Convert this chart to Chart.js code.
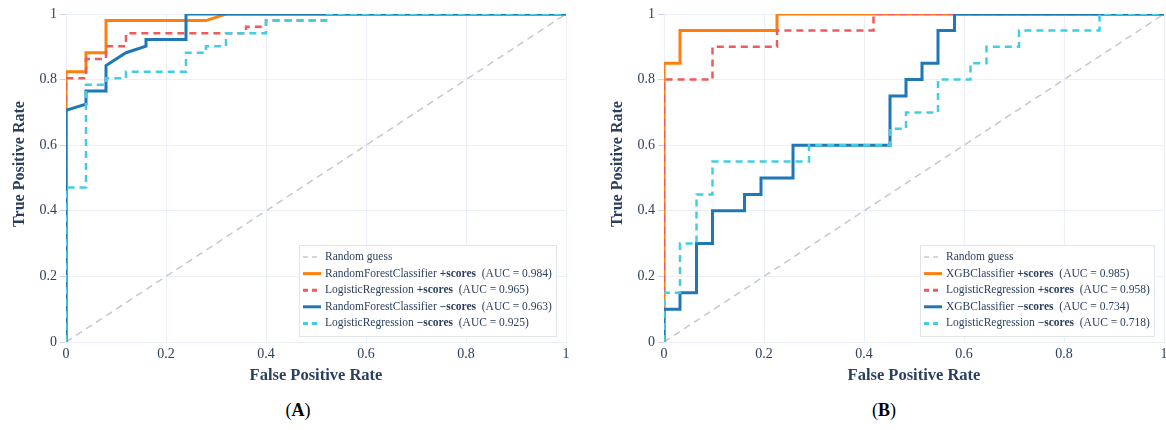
<!DOCTYPE html>
<html>
<head>
<meta charset="utf-8">
<script src="https://cdn.jsdelivr.net/npm/chart.js@4.4.1/dist/chart.umd.min.js"></script>
<style>
  body { margin: 0; background: #fff; width: 1166px; height: 430px; overflow: hidden; position: relative; font-family: "Liberation Serif", serif; }
  .panel { position: absolute; top: 0; width: 583px; height: 400px; }
  .cap { position: absolute; top: 400px; width: 100px; text-align: center; font-size: 18px; color: #000; }
</style>
</head>
<body>
<div class="panel" style="left:0"><canvas id="rocA" width="583" height="400"></canvas></div>
<div class="panel" style="left:583px"><canvas id="rocB" width="583" height="400"></canvas></div>
<div class="cap" style="left:248px">(<b>A</b>)</div>
<div class="cap" style="left:834px">(<b>B</b>)</div>
<script>
// ---- data: panel A ----
const guessFpr = [0, 1];
const guessTpr = [0, 1];

const rfPosFpr = [0, 0, 0.04, 0.04, 0.08, 0.08, 0.28, 0.32, 1];
const rfPosTpr = [0, 0.824, 0.824, 0.882, 0.882, 0.98, 0.98, 1, 1];

const lrPosFprA = [0, 0, 0.04, 0.04, 0.08, 0.08, 0.12, 0.12, 0.36, 0.36, 0.40, 0.40, 0.52, 0.52, 1];
const lrPosTprA = [0, 0.804, 0.804, 0.863, 0.863, 0.902, 0.902, 0.941, 0.941, 0.961, 0.961, 0.98, 0.98, 1, 1];

const rfNegFpr = [0, 0, 0.04, 0.04, 0.08, 0.08, 0.12, 0.16, 0.16, 0.24, 0.24, 1];
const rfNegTpr = [0, 0.706, 0.725, 0.765, 0.765, 0.843, 0.882, 0.902, 0.922, 0.922, 1, 1];

const lrNegFprA = [0, 0, 0.04, 0.04, 0.08, 0.08, 0.12, 0.12, 0.24, 0.24, 0.28, 0.28, 0.32, 0.32, 0.40, 0.40, 0.52, 0.52, 1];
const lrNegTprA = [0, 0.471, 0.471, 0.784, 0.784, 0.804, 0.804, 0.824, 0.824, 0.882, 0.882, 0.902, 0.902, 0.941, 0.941, 0.98, 0.98, 1, 1];

// ---- data: panel B ----
const xgbPosFpr = [0, 0, 0.032, 0.032, 0.226, 0.226, 1];
const xgbPosTpr = [0, 0.85, 0.85, 0.95, 0.95, 1, 1];

const lrPosFprB = [0, 0, 0.097, 0.097, 0.226, 0.226, 0.419, 0.419, 1];
const lrPosTprB = [0, 0.8, 0.8, 0.9, 0.9, 0.95, 0.95, 1, 1];

const xgbNegFpr = [0, 0, 0.032, 0.032, 0.065, 0.065, 0.097, 0.097, 0.161, 0.161, 0.194, 0.194, 0.258, 0.258, 0.452, 0.452, 0.484, 0.484, 0.516, 0.516, 0.548, 0.548, 0.581, 0.581, 1];
const xgbNegTpr = [0, 0.1, 0.1, 0.15, 0.15, 0.3, 0.3, 0.4, 0.4, 0.45, 0.45, 0.5, 0.5, 0.6, 0.6, 0.75, 0.75, 0.8, 0.8, 0.85, 0.85, 0.95, 0.95, 1, 1];

const lrNegFprB = [0, 0, 0.032, 0.032, 0.065, 0.065, 0.097, 0.097, 0.290, 0.290, 0.452, 0.452, 0.484, 0.484, 0.548, 0.548, 0.613, 0.613, 0.645, 0.645, 0.710, 0.710, 0.871, 0.871, 1];
const lrNegTprB = [0, 0.15, 0.15, 0.3, 0.3, 0.45, 0.45, 0.55, 0.55, 0.6, 0.6, 0.65, 0.65, 0.7, 0.7, 0.8, 0.8, 0.85, 0.85, 0.9, 0.9, 0.95, 0.95, 1, 1];

// legend text
const modelsA = ['RandomForestClassifier', 'LogisticRegression', 'RandomForestClassifier', 'LogisticRegression'];
const modelsB = ['XGBClassifier', 'LogisticRegression', 'XGBClassifier', 'LogisticRegression'];
const scoreTags = ['+scores', '+scores', '\u2212scores', '\u2212scores'];
const aucA = ['0.984', '0.965', '0.963', '0.925'];
const aucB = ['0.985', '0.958', '0.734', '0.718'];
const tickVals = [0, 0.2, 0.4, 0.6, 0.8, 1];

const FONT = '"Liberation Serif", "Times New Roman", serif';
const NAVY = '#2a3f5f';
const GRID = '#ebf0f8';
const ORANGE = '#ff7f0e', RED = '#ef5b5b', BLUE = '#1f77b4', CYAN = '#3fcfe0', GRAY = '#c8c8c8';

function pts(xs, ys) {
    return xs.map((x, i) => ({ x: x, y: ys[i] }));
}

function series(fpr, tpr, color, dashed, order, width) {
    return {
        data: pts(fpr, tpr),
        showLine: true,
        borderColor: color,
        backgroundColor: color,
        borderWidth: width,
        borderDash: dashed ? [7, 5] : [],
        pointRadius: 0,
        tension: 0,
        fill: false,
        order: order
    };
}

function legendBox(rows) {
    return {
        id: 'rocLegend',
        afterDatasetsDraw(chart) {
            const ctx = chart.ctx;
            const xs = chart.scales.x, ys = chart.scales.y;
            const norm = '11.5px ' + FONT, bold = 'bold 11.5px ' + FONT;
            ctx.save();
            let maxW = 0;
            rows.forEach(r => {
                let w = 0;
                r.parts.forEach(p => { ctx.font = p.b ? bold : norm; w += ctx.measureText(p.t).width; });
                maxW = Math.max(maxW, w);
            });
            const rowH = 16.6;
            const boxW = Math.round(26 + maxW + 4), boxH = Math.round(rows.length * rowH + 8);
            const right = Math.round(xs.getPixelForValue(0.98));
            const bottom = Math.round(ys.getPixelForValue(0.018));
            const left = right - boxW, top = bottom - boxH;
            ctx.fillStyle = '#fff';
            ctx.fillRect(left, top, boxW, boxH);
            ctx.strokeStyle = '#e1e5eb';
            ctx.lineWidth = 1;
            ctx.strokeRect(left + 0.5, top + 0.5, boxW, boxH);
            rows.forEach((r, i) => {
                const y = top + 12 + i * rowH;
                ctx.strokeStyle = r.color;
                ctx.lineWidth = r.lw;
                ctx.setLineDash(r.dash);
                ctx.beginPath();
                ctx.moveTo(left + 4, y);
                ctx.lineTo(left + 22, y);
                ctx.stroke();
                ctx.setLineDash([]);
                let x = left + 26;
                ctx.textBaseline = 'middle';
                ctx.fillStyle = NAVY;
                r.parts.forEach(p => {
                    ctx.font = p.b ? bold : norm;
                    ctx.fillText(p.t, x, y);
                    x += ctx.measureText(p.t).width;
                });
            });
            // y axis title, sits a little above the plot centre
            ctx.save();
            ctx.translate(chart.scales.y.left + 20, 164);
            ctx.rotate(-Math.PI / 2);
            ctx.font = 'bold 16px ' + FONT;
            ctx.fillStyle = NAVY;
            ctx.textAlign = 'center';
            ctx.textBaseline = 'middle';
            ctx.fillText('True Positive Rate', 0, 0);
            ctx.restore();
            ctx.restore();
        }
    };
}

function legendRows(models, aucs) {
    const cols = [ORANGE, RED, BLUE, CYAN];
    const rows = [{ color: GRAY, lw: 1.5, dash: [5, 4], parts: [{ t: 'Random guess' }] }];
    models.forEach((m, i) => {
        rows.push({
            color: cols[i], lw: 3, dash: (i % 2) ? [5, 4] : [],
            parts: [{ t: m + ' ' }, { t: scoreTags[i], b: true }, { t: '  (AUC = ' + aucs[i] + ')' }]
        });
    });
    return rows;
}

function fmt(v) {
    if (Math.abs(v) < 1e-9) return '0';
    if (Math.abs(v - 1) < 1e-9) return '1';
    return v.toFixed(1);
}

function makeChart(id, padLeft, padRight, sets, rows) {
    new Chart(document.getElementById(id), {
        type: 'scatter',
        data: { datasets: sets },
        options: {
            responsive: false,
            animation: false,
            layout: { padding: { left: padLeft, top: 14, right: padRight, bottom: 0 } },
            plugins: { legend: { display: false }, tooltip: { enabled: false } },
            scales: {
                x: {
                    type: 'linear', min: 0, max: 1,
                    afterBuildTicks: s => { s.ticks = tickVals.map(v => ({ value: v })); },
                    afterFit: s => { s.height = 58; s.paddingLeft = 0; s.paddingRight = 0; },
                    ticks: { font: { family: FONT, size: 14 }, color: NAVY, padding: 4, maxRotation: 0, callback: v => fmt(v) },
                    grid: { color: GRID, drawTicks: false },
                    border: { color: GRID },
                    title: { display: true, text: 'False Positive Rate', color: NAVY,
                             font: { family: FONT, size: 16.5, weight: 'bold' }, padding: { top: 0, bottom: 14 } }
                },
                y: {
                    type: 'linear', min: 0, max: 1,
                    afterBuildTicks: s => { s.ticks = tickVals.map(v => ({ value: v })); },
                    afterFit: s => { s.width = 66; s.paddingTop = 0; s.paddingBottom = 0; },
                    ticks: { font: { family: FONT, size: 14 }, color: NAVY, padding: 3, callback: v => fmt(v) },
                    grid: { color: GRID, tickColor: '#d0d5dd', tickLength: 6 },
                    border: { color: GRID },
                    title: { display: false }
                }
            }
        },
        plugins: [legendBox(rows)]
    });
}

makeChart('rocA', 0, 17, [
    series(guessFpr, guessTpr, GRAY, true, 5, 1.5),
    series(rfPosFpr, rfPosTpr, ORANGE, false, 4, 3),
    series(lrPosFprA, lrPosTprA, RED, true, 3, 2.5),
    series(rfNegFpr, rfNegTpr, BLUE, false, 2, 3),
    series(lrNegFprA, lrNegTprA, CYAN, true, 1, 2.5)
], legendRows(modelsA, aucA));

makeChart('rocB', 15, 2, [
    series(guessFpr, guessTpr, GRAY, true, 5, 1.5),
    series(xgbPosFpr, xgbPosTpr, ORANGE, false, 4, 3),
    series(lrPosFprB, lrPosTprB, RED, true, 3, 2.5),
    series(xgbNegFpr, xgbNegTpr, BLUE, false, 2, 3),
    series(lrNegFprB, lrNegTprB, CYAN, true, 1, 2.5)
], legendRows(modelsB, aucB));
</script>
</body>
</html>
